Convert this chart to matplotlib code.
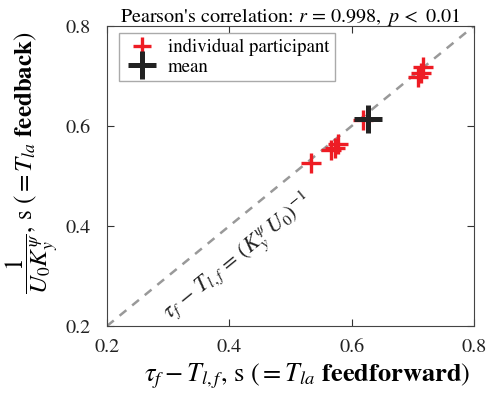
import matplotlib
matplotlib.use('Agg')
import matplotlib.pyplot as plt
from matplotlib.lines import Line2D

plt.rcParams['font.family'] = 'STIXGeneral'
plt.rcParams['mathtext.fontset'] = 'stix'

# participant estimates
x_ff = [0.533, 0.567, 0.572, 0.578, 0.618, 0.708, 0.714, 0.717]
y_fb = [0.526, 0.552, 0.557, 0.565, 0.613, 0.699, 0.707, 0.719]
mean_x = [0.626]
mean_y = [0.615]
ticks = [0.2, 0.4, 0.6, 0.8]

fig = plt.figure(figsize=(4.94, 4.0), dpi=100)
ax = fig.add_axes([107 / 494, 74 / 400, 367 / 494, 300 / 400])

ax.plot([0.2, 0.8], [0.2, 0.8], '--', color='#999999', lw=1.8, dashes=(3.5, 3), zorder=1)
ax.plot(x_ff, y_fb, '+', color='#ee1c24', ms=14, mew=2.4, ls='none', zorder=2)
ax.plot(mean_x, mean_y, '+', color='#222222', ms=20, mew=3.6, ls='none', zorder=3)

ax.text(0.414, 0.338, r'$\tau_f\, -\, T_{l,f}\, =\, (K_y^\psi\, U_0)^{-1}$', rotation=39.2,
        ha='center', va='center', fontsize=16, color='#222222', rotation_mode='anchor')

ax.set_xlim(0.2, 0.8)
ax.set_ylim(0.2, 0.8)
ax.set_xticks(ticks)
ax.set_yticks(ticks)
ax.set_xticklabels([f'{t:.1f}' for t in ticks])
ax.set_yticklabels([f'{t:.1f}' for t in ticks])
ax.tick_params(direction='in', top=True, right=True, labelsize=14.5, length=5,
               color='#333333', labelcolor='#222222')
ax.tick_params(axis='x', pad=9)
ax.tick_params(axis='y', pad=12)
for s in ax.spines.values():
    s.set_color('#444444')

ax.set_xlabel(r'$\tau_f - T_{l,f}$, s $(= T_{la}$ $\mathbf{feedforward})$', fontsize=19)
ax.xaxis.set_label_coords(0.545, -0.118)
ax.set_ylabel(r'$\dfrac{1}{U_0 K_y^\psi}$, s $(= T_{la}$ $\mathbf{feedback})$', fontsize=18)
ax.yaxis.set_label_coords(-0.125, 0.545)
ax.set_title(r"Pearson's correlation: $r\, =\, 0.998,\ p\, <\ 0.01$", fontsize=14.5, pad=3)

handles = [Line2D([], [], marker='+', color='#ee1c24', ms=13, mew=2.4, ls='none'),
           Line2D([], [], marker='+', color='#222222', ms=20, mew=3.6, ls='none')]
leg = ax.legend(handles, ['individual participant', 'mean'], loc='upper left',
                bbox_to_anchor=(12 / 367, 1 - 7 / 300), borderaxespad=0,
                fontsize=13.5, fancybox=False, edgecolor='#aaaaaa', framealpha=1,
                handletextpad=0.5, labelspacing=0.12,
                borderpad=0.3, handlelength=1.8)
leg.get_frame().set_linewidth(1.0)

fig.savefig('out.png', dpi=100)
